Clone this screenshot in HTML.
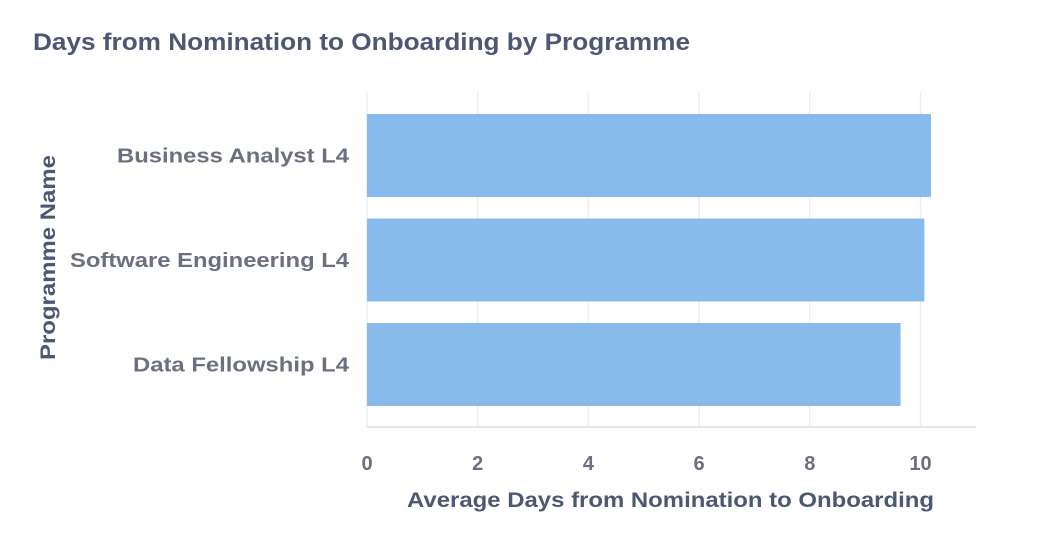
<!DOCTYPE html>
<html><head><meta charset="utf-8"><style>
body{margin:0;background:#fff;width:1042px;height:540px;overflow:hidden;font-family:"Liberation Sans",sans-serif}
</style></head><body>
<svg width="1042" height="540">
<text x="33" y="50" font-size="24" font-weight="bold" fill="#4c5773" textLength="657" lengthAdjust="spacingAndGlyphs">Days from Nomination to Onboarding by Programme</text>
<g id="grid"></g><g id="bars"></g><g id="ylabels"></g><g id="xticks"></g>
<line x1="367" y1="427" x2="976" y2="427" stroke="#e3e5e8" stroke-width="2"/>
<text x="407" y="507" font-size="21" font-weight="bold" fill="#4c5773" textLength="527" lengthAdjust="spacingAndGlyphs">Average Days from Nomination to Onboarding</text>
<text transform="translate(55,360) rotate(-90)" font-size="21" font-weight="bold" fill="#4c5773" textLength="205" lengthAdjust="spacingAndGlyphs">Programme Name</text>
</svg>
<script>
const categories=["Business Analyst L4","Software Engineering L4","Data Fellowship L4"];
const values=[10.19,10.07,9.64];
const ticks=[0,2,4,6,8,10];
const labelWidths=[232,279,216];
const NS="http://www.w3.org/2000/svg";
const xs=v=>367+v*55.35;
const gridTop=92,gridBottom=427,firstCenter=155.5,band=104.5,barH=83;
function mk(tag,attrs,parent,text){const e=document.createElementNS(NS,tag);for(const k in attrs)e.setAttribute(k,attrs[k]);if(text!=null)e.textContent=text;document.getElementById(parent).appendChild(e);return e;}
ticks.forEach(t=>{
 const g=mk('line',{x1:xs(t),x2:xs(t),y1:gridTop,y2:gridBottom,stroke:'#eeeff1','stroke-width':1.5},'grid');
 
 
 const l=mk('text',{x:xs(t),y:470,'text-anchor':'middle','font-size':20,'font-weight':'bold',fill:'#6b7080'},'xticks',t);
 
 
});
categories.forEach((c,i)=>{
 const cy=firstCenter+i*band;
 const b=mk('rect',{x:xs(0),y:cy-barH/2,width:xs(values[i])-xs(0),height:barH,fill:'#88bbec'},'bars');
 
 
 const l=mk('text',{x:349-labelWidths[i],y:cy+7,'font-size':20,'font-weight':'bold',fill:'#6b7080',textLength:labelWidths[i],lengthAdjust:'spacingAndGlyphs'},'ylabels',c);
 
 
});
</script>
</body></html>
